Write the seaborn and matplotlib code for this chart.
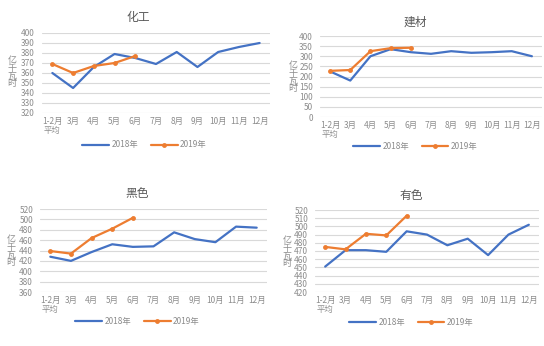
import matplotlib
matplotlib.use("Agg")
import matplotlib.pyplot as plt
import seaborn as sns
import pandas as pd

sns.set_theme(style="white")
plt.rcParams["font.family"] = ["Noto Sans CJK SC", "DejaVu Sans"]

months = ["1-2月\n平均", "3月", "4月", "5月", "6月", "7月", "8月", "9月", "10月", "11月", "12月"]

chem_2018 = [360, 345, 366, 379, 375, 369, 381, 366, 381, 386, 390]
chem_2019 = [369, 360, 367, 370, 377]

build_2018 = [225, 180, 300, 335, 320, 312, 325, 317, 320, 325, 300]
build_2019 = [228, 232, 325, 340, 342]

ferrous_2018 = [428, 420, 437, 452, 447, 448, 475, 462, 456, 486, 484]
ferrous_2019 = [439, 434, 464, 482, 503]

nonferrous_2018 = [451, 471, 471, 469, 494, 490, 477, 485, 465, 490, 502]
nonferrous_2019 = [475, 472, 491, 489, 513]

BLUE = "#4472C4"
ORANGE = "#ED7D31"
GRAY = "#8c8c8c"
GRID = "#d9d9d9"

fig = plt.figure(figsize=(5.44, 3.46), dpi=100)
W, H = 544, 346


def px_axes(x0, y0, x1, y1):
    return fig.add_axes([x0 / W, 1 - y1 / H, (x1 - x0) / W, (y1 - y0) / H])


panels = [
    dict(title="化工", box=(42, 33, 270, 113), s18=chem_2018, s19=chem_2019,
         ylim=(320, 400), step=10, tpos=(138, 17), ypos=(12, 72), leg=(0.45, -0.40)),
    dict(title="建材", box=(320, 36, 542, 117), s18=build_2018, s19=build_2019,
         ylim=(0, 400), step=50, tpos=(415, 22), ypos=(293, 77), leg=(0.43, -0.36)),
    dict(title="黑色", box=(40, 209, 267, 292), s18=ferrous_2018, s19=ferrous_2019,
         ylim=(360, 520), step=20, tpos=(137, 194), ypos=(11, 251), leg=(0.43, -0.36)),
    dict(title="有色", box=(315, 210, 539, 292), s18=nonferrous_2018, s19=nonferrous_2019,
         ylim=(420, 520), step=10, tpos=(411, 195), ypos=(287, 252), leg=(0.43, -0.37)),
]

for p in panels:
    ax = px_axes(*p["box"])
    d18 = pd.DataFrame({"month": months, "value": p["s18"]})
    d19 = pd.DataFrame({"month": months[:len(p["s19"])], "value": p["s19"]})
    sns.lineplot(data=d18, x="month", y="value", ax=ax, color=BLUE, lw=1.6,
                 label="2018年", sort=False)
    sns.lineplot(data=d19, x="month", y="value", ax=ax, color=ORANGE, lw=1.6,
                 marker="o", markersize=3.5, markeredgewidth=0, label="2019年", sort=False)
    ax.set_xlim(-0.5, len(months) - 0.5)
    lo, hi = p["ylim"]
    ax.set_ylim(lo, hi)
    ax.set_yticks(range(lo, hi + 1, p["step"]))
    ax.set_xticks(range(len(months)))
    ax.set_xticklabels(months)
    ax.set_xlabel("")
    ax.set_ylabel("")
    ax.grid(axis="y", color=GRID, lw=0.8)
    ax.set_axisbelow(True)
    for s in ax.spines.values():
        s.set_visible(False)
    ax.tick_params(axis="x", labelsize=6, colors=GRAY, length=0, pad=3)
    ax.tick_params(axis="y", labelsize=6, colors=GRAY, length=0, pad=5)
    for t in ax.get_xticklabels():
        t.set_linespacing(1.0)
    ax.legend(loc="center", bbox_to_anchor=p["leg"], ncol=2, frameon=False,
              fontsize=6, labelcolor=GRAY, handlelength=3.2, columnspacing=1.5,
              handletextpad=0.3)
    fig.text(p["tpos"][0] / W, 1 - p["tpos"][1] / H, p["title"], ha="center", va="center",
             fontsize=8.5, color="#595959")
    fig.text(p["ypos"][0] / W, 1 - p["ypos"][1] / H, "亿\n千\n瓦\n时", ha="center",
             va="center", fontsize=6.5, color=GRAY, linespacing=0.85)

fig.savefig("out.png", dpi=100, facecolor="white")
